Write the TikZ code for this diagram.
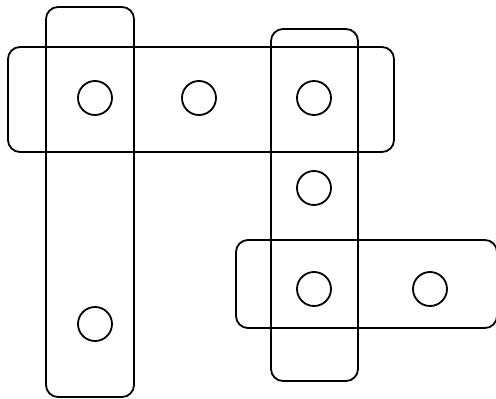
\documentclass[tikz,border=0pt]{standalone}
\usetikzlibrary{positioning}

\tikzset{
  vertex/.style={draw, circle, line width=1.8pt, inner sep=0pt, minimum size=34pt},
  hedge/.style={draw, rectangle, rounded corners=12pt, line width=1.8pt, inner sep=0pt}
}

\begin{document}
\begin{tikzpicture}[x=1pt, y=-1pt]
\useasboundingbox (0,0) rectangle (496,399);
% 顶点
\node[vertex] (v1) at (95,98) {};
\node[vertex] (v2) at (199,98) {};
\node[vertex] (v3) at (314,98) {};
\node[vertex] (v4) at (314,188) {};
\node[vertex] (v5) at (314,289) {};
\node[vertex] (v6) at (430,289) {};
\node[vertex] (v7) at (95,324) {};
% 超边
\node[hedge, minimum width=88pt, minimum height=390pt] (e1) at (90,202) {};
\node[hedge, minimum width=386pt, minimum height=105pt] (e2) at (201,99.5) {};
\node[hedge, minimum width=87pt, minimum height=352pt] (e3) at (314.5,205) {};
\node[hedge, minimum width=261pt, minimum height=88pt] (e4) at (366.5,284) {};
\end{tikzpicture}
\end{document}
